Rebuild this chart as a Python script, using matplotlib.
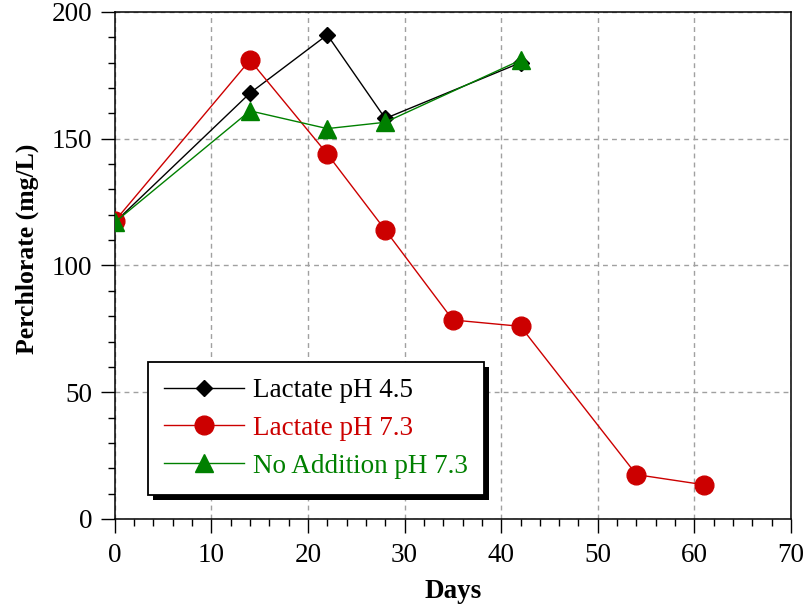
import matplotlib.pyplot as plt
from matplotlib.patches import Rectangle
from matplotlib.ticker import MultipleLocator

plt.rcParams["font.family"] = ["Liberation Serif", "DejaVu Serif"]

# perchlorate concentration over time for each treatment
days_ph45 = [0, 14, 22, 28, 42]
perc_ph45 = [117, 168, 191, 158, 180]

days_ph73 = [0, 14, 22, 28, 35, 42, 54, 61]
perc_ph73 = [117.5, 181, 144, 114, 78.5, 76, 17.5, 13.5]

days_none = [0, 14, 22, 28, 42]
perc_none = [117, 161, 154, 156.5, 181]

red = "#cc0000"
green = "#008000"

fig = plt.figure(figsize=(8.09, 6.09), dpi=100)
ax = fig.add_axes([0.1418, 0.1478, 0.8360, 0.8325])

ax.plot(days_ph45, perc_ph45, color="black", lw=1.0, marker="D", ms=8.3,
        label="Lactate pH 4.5", zorder=3)
ax.plot(days_ph73, perc_ph73, color=red, lw=1.0, marker="o", ms=13.5,
        label="Lactate pH 7.3", zorder=4)
ax.plot(days_none, perc_none, color=green, lw=1.0, marker="^", ms=13,
        label="No Addition pH 7.3", zorder=5)

ax.set_xlim(0, 70)
ax.set_ylim(0, 200)
ax.xaxis.set_major_locator(MultipleLocator(10))
ax.xaxis.set_minor_locator(MultipleLocator(2))
ax.yaxis.set_major_locator(MultipleLocator(50))
ax.yaxis.set_minor_locator(MultipleLocator(10))
ax.tick_params(which="major", direction="out", length=10, width=1.0,
               labelsize=19.5, pad=6)
ax.tick_params(which="minor", direction="out", length=5, width=1.0)
ax.tick_params(axis="x", which="major", pad=7)

for side in ["left", "right", "top", "bottom"]:
    ax.spines[side].set_linewidth(1.1)

ax.grid(True, which="major", color="#a0a0a0", linestyle=(0, (3.5, 3)), lw=1.0)
ax.set_axisbelow(True)

ax.set_xlabel("Days", fontsize=19.5, fontweight="bold", va="center")
ax.xaxis.set_label_coords(0.5, -0.144)
ax.set_ylabel("Perchlorate (mg/L)", fontsize=18.5, fontweight="bold",
              va="center")
ax.yaxis.set_label_coords(-0.129, 0.5335)

leg = ax.legend(loc="upper left", bbox_to_anchor=(0.049, 0.31),
                borderaxespad=0, fontsize=19.5, frameon=True, fancybox=False,
                framealpha=1, edgecolor="black", handlelength=2.95,
                handletextpad=0.33, labelspacing=0.47, borderpad=0.6)
leg.get_frame().set_linewidth(1.3)
leg.set_zorder(10)
for text, col in zip(leg.get_texts(), ["black", red, green]):
    text.set_color(col)

# solid drop shadow under the legend box
fig.canvas.draw()
bb = leg.get_window_extent().transformed(fig.transFigure.inverted())
off_x = 5 / fig.bbox.width
off_y = 5 / fig.bbox.height
ax.add_patch(Rectangle((bb.x0 + off_x, bb.y0 - off_y), bb.width, bb.height,
                       transform=fig.transFigure, facecolor="black",
                       edgecolor="none", zorder=9, clip_on=False))

fig.savefig("out.png", dpi=100)
